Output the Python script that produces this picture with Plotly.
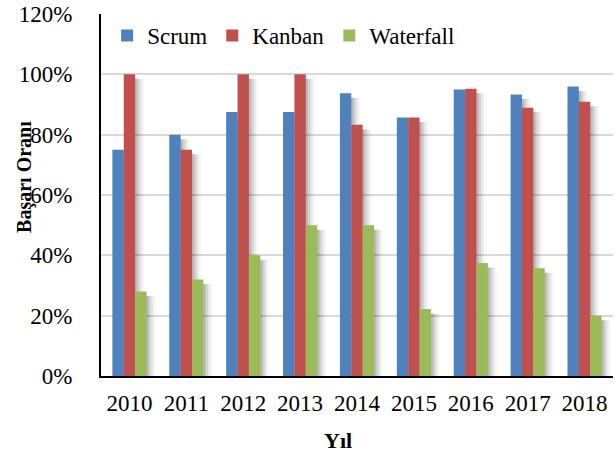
import plotly.graph_objects as go

years = ["2010", "2011", "2012", "2013", "2014", "2015", "2016", "2017", "2018"]
scrum = [75.0, 80.0, 87.5, 87.5, 93.7, 85.7, 95.0, 93.3, 96.0]
kanban = [100.0, 75.0, 100.0, 100.0, 83.3, 85.7, 95.2, 88.9, 90.9]
waterfall = [28.0, 32.0, 40.0, 50.0, 50.0, 22.2, 37.5, 35.7, 20.0]
series_names = ["Scrum", "Kanban", "Waterfall"]
colors = ["#4F81BD", "#C0504D", "#9BBB59"]
y_ticks = [0, 20, 40, 60, 80, 100, 120]
y_tick_text = ["0%", "20%", "40%", "60%", "80%", "100%", "120%"]

FONT = "Liberation Serif"
series = [scrum, kanban, waterfall]
bw = 0.2
offsets = [-0.3, -0.1, 0.1]

fig = go.Figure()
# soft shadows
for vals, off in zip(series, offsets):
    for shift, alpha in [(0.04, 0.12), (0.08, 0.09), (0.12, 0.06), (0.16, 0.03)]:
        fig.add_trace(go.Bar(
            x=years, y=[v - 1.5 for v in vals], width=bw, offset=off + shift,
            marker=dict(color=f"rgba(0,0,0,{alpha})", line=dict(width=0)),
            showlegend=False, hoverinfo="skip"))
for name, vals, col, off in zip(series_names, series, colors, offsets):
    fig.add_trace(go.Bar(
        x=years, y=vals, name=name, width=bw, offset=off,
        marker=dict(color=col, line=dict(width=0))))

fig.update_layout(
    width=616, height=455,
    margin=dict(l=101, r=3, t=14, b=79),
    paper_bgcolor="white", plot_bgcolor="white",
    barmode="overlay",
    font=dict(family=FONT, size=23, color="black"),
    legend=dict(orientation="h", x=0.012, y=1.0, xanchor="left", yanchor="top",
                font=dict(family=FONT, size=23, color="black"), bgcolor="rgba(0,0,0,0)",
                itemwidth=30, tracegroupgap=0, traceorder="normal"),
    xaxis=dict(type="category", showline=True, linecolor="black", linewidth=2,
               ticks="", tickfont=dict(family=FONT, size=23),
               ticklabelstandoff=5, showgrid=False),
    yaxis=dict(range=[0, 120], tickvals=y_ticks, ticktext=y_tick_text,
               showline=True, linecolor="black", linewidth=2,
               gridcolor="#D9D9D9", gridwidth=1.5, ticks="",
               ticklabelstandoff=22, tickfont=dict(family=FONT, size=23),
               zeroline=False),
    annotations=[
        dict(text="<b>Başarı Oranı</b>", xref="paper", yref="paper", x=0, y=0.55,
             xshift=-76, textangle=-90, showarrow=False,
             font=dict(family=FONT, size=20), xanchor="center", yanchor="middle"),
        dict(text="<b>Yıl</b>", xref="paper", yref="paper", x=0.462, y=0,
             yshift=-64, showarrow=False, font=dict(family=FONT, size=22),
             xanchor="center", yanchor="middle"),
    ],
)
fig.write_html("out.html", config={"displayModeBar": False},
               post_script="document.body.style.margin='0';document.body.style.padding='0';")
